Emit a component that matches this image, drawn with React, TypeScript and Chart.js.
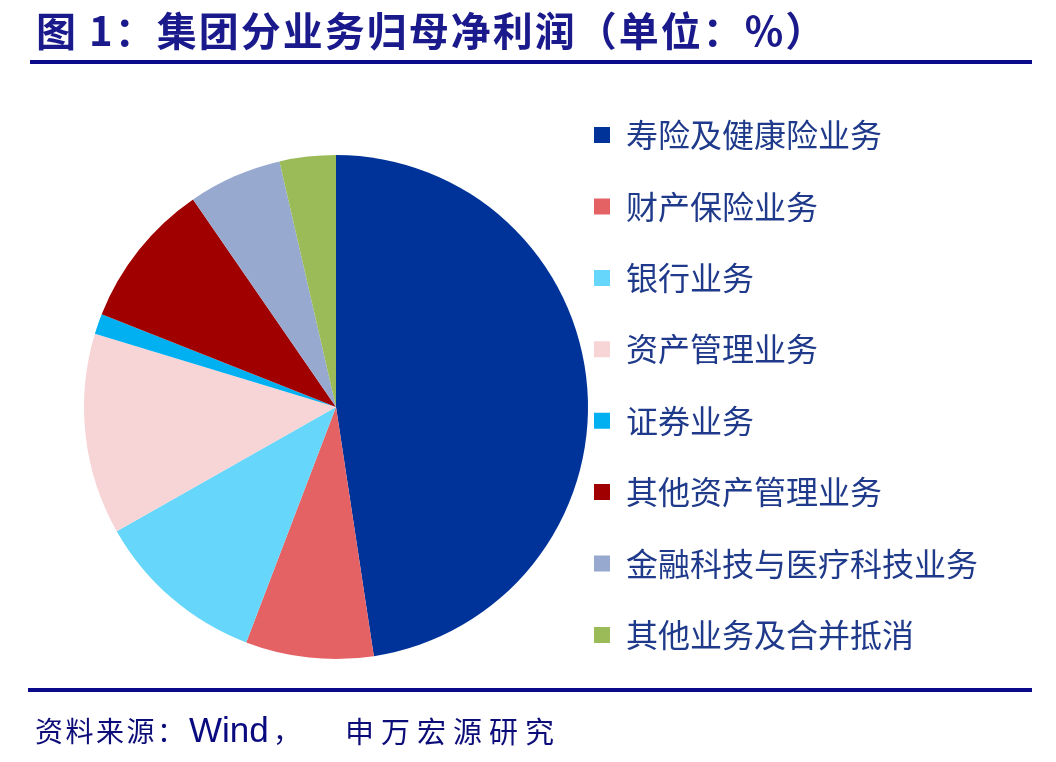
import React, { useEffect, useRef } from "react";
import { Chart, registerables } from "chart.js";

Chart.register(...registerables);

const categories = [
  "寿险及健康险业务",
  "财产保险业务",
  "银行业务",
  "资产管理业务",
  "证券业务",
  "其他资产管理业务",
  "金融科技与医疗科技业务",
  "其他业务及合并抵消",
];
const shares = [47.6, 8.2, 11.0, 12.9, 1.3, 9.4, 6.0, 3.6];
const sliceColors = [
  "#003399",
  "#E46264",
  "#66D7FA",
  "#F7D5D7",
  "#00B0F0",
  "#A00000",
  "#97A9CF",
  "#9BBB59",
];

const titleText = "图 1：集团分业务归母净利润（单位：%）";
const sourceLabel = "资料来源：";
const sourceName = "Wind";
const sourceComma = "，";
const sourceOrg = "申万宏源研究";

const shiftLegend = {
  id: "shiftLegend",
  afterLayout(chart: any) {
    const lg = chart.legend;
    if (!lg) return;
    lg.left -= 33.4;
    lg.right += 60;
    lg.top -= 22;
    lg.bottom -= 22;
  },
};

export default function App() {
  const ref = useRef<HTMLCanvasElement | null>(null);
  useEffect(() => {
    if (!ref.current) return;
    const chart = new Chart(ref.current, {
      type: "pie",
      data: {
        labels: categories,
        datasets: [
          {
            data: shares,
            backgroundColor: sliceColors,
            borderWidth: 0,
          },
        ],
      },
      options: {
        responsive: false,
        maintainAspectRatio: false,
        animation: false,
        devicePixelRatio: 1,
        layout: { padding: { left: 84, right: 58, top: 91, bottom: 39 } },
        plugins: {
          tooltip: { enabled: false },
          legend: {
            position: "right",
            maxWidth: 410,
            labels: {
              boxWidth: 16,
              boxHeight: 16,
              padding: 39.4,
              color: "#1F3A8A",
              font: { family: "'Noto Sans CJK SC', sans-serif", size: 32 },
            },
          },
        },
      },
      plugins: [shiftLegend],
    });
    return () => chart.destroy();
  }, []);

  const srcBase: React.CSSProperties = {
    position: "absolute",
    top: 710,
    lineHeight: "40px",
    color: "#0D0D7A",
    whiteSpace: "nowrap",
    fontFamily: "'Noto Sans CJK SC', sans-serif",
  };

  return (
    <div style={{ position: "absolute", left: 0, top: 0, width: 1056, height: 762, background: "#fff", overflow: "hidden" }}>
      <canvas ref={ref} width={1056} height={762} style={{ position: "absolute", left: 0, top: 0, width: 1056, height: 762 }} />
      <div
        style={{
          position: "absolute",
          left: 36,
          top: 4,
          fontFamily: "'Noto Sans CJK SC', sans-serif",
          fontWeight: 700,
          fontSize: 40,
          lineHeight: "50px",
          letterSpacing: 2,
          color: "#1A1A8C",
          whiteSpace: "nowrap",
        }}
      >
        {titleText}
      </div>
      <div style={{ position: "absolute", left: 30, top: 60, width: 1002, height: 4, background: "#0A0A8A" }} />
      <div style={{ position: "absolute", left: 28, top: 688, width: 1004, height: 4, background: "#0A0A8A" }} />
      <div style={{ ...srcBase, left: 35, fontSize: 28, letterSpacing: 2.5 }}>{sourceLabel}</div>
      <div style={{ ...srcBase, left: 189, fontSize: 35, fontFamily: "'Liberation Sans', Arial, sans-serif", color: "#0A0A80" }}>{sourceName}</div>
      <div style={{ ...srcBase, left: 273, fontSize: 28 }}>{sourceComma}</div>
      <div style={{ ...srcBase, left: 345, fontSize: 29, letterSpacing: 7 }}>{sourceOrg}</div>
    </div>
  );
}
